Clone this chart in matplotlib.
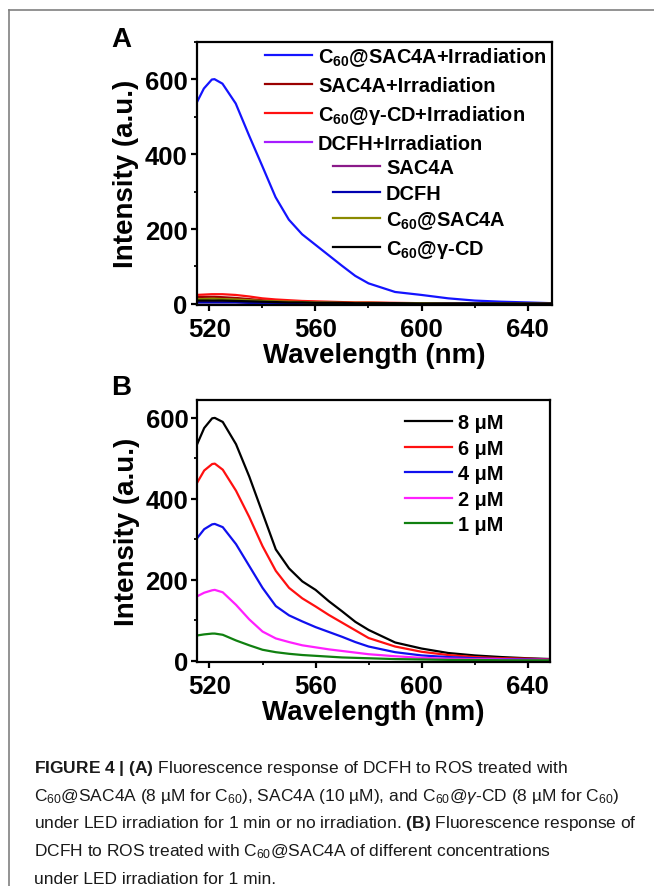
import matplotlib
matplotlib.use('Agg')
import matplotlib.pyplot as plt
from matplotlib.lines import Line2D
from matplotlib.ticker import MultipleLocator

# fuentes
plt.rcParams['font.family'] = ['Liberation Sans', 'DejaVu Sans']
plt.rcParams['mathtext.fontset'] = 'custom'
plt.rcParams['mathtext.rm'] = 'Liberation Sans'
plt.rcParams['mathtext.it'] = 'Liberation Sans:italic'
plt.rcParams['mathtext.bf'] = 'Liberation Sans:bold'

# datos
wl = [515, 518, 521, 522, 525, 530, 535, 540, 545, 550, 555, 560,
      565, 570, 575, 580, 590, 600, 610, 620, 630, 640, 649]

# panel A
c60_sac4a_irr = [533, 575, 599, 600, 588, 535, 450, 368, 285, 225, 186, 158,
                 130, 102, 75, 55, 32, 24, 15, 9, 6, 4, 2]
sac4a_irr = [18, 19, 19, 19, 18, 16, 13, 10, 8, 7, 6, 5, 4, 4, 3, 3, 2, 2, 2, 1, 1, 1, 1]
c60_gcd_irr = [24, 25, 26, 26, 26, 24, 20, 15, 12, 10, 8, 7, 6, 5, 4, 4, 3, 2, 2, 1, 1, 1, 1]
dcfh_irr = [7, 7, 7, 7, 7, 6, 5, 5, 4, 4, 3, 3, 3, 2, 2, 2, 2, 1, 1, 1, 1, 1, 1]
sac4a = [5, 5, 5, 5, 5, 5, 4, 4, 3, 3, 3, 2, 2, 2, 2, 2, 1, 1, 1, 1, 1, 1, 1]
dcfh = [4, 4, 4, 4, 4, 4, 3, 3, 3, 2, 2, 2, 2, 2, 1, 1, 1, 1, 1, 1, 1, 1, 1]
c60_sac4a = [13, 13, 14, 14, 13, 12, 10, 8, 7, 6, 5, 4, 4, 3, 3, 3, 2, 2, 1, 1, 1, 1, 1]
c60_gcd = [9, 9, 9, 9, 9, 8, 7, 6, 5, 4, 4, 3, 3, 3, 2, 2, 2, 1, 1, 1, 1, 1, 1]

# panel B
um8 = [530, 575, 599, 600, 590, 535, 455, 365, 275, 228, 196, 175,
       147, 122, 96, 76, 45, 30, 19, 13, 9, 6, 4]
um6 = [436, 470, 486, 487, 472, 420, 355, 283, 222, 180, 154, 134,
       113, 94, 75, 56, 35, 22, 14, 9, 6, 5, 3]
um4 = [300, 325, 337, 338, 330, 288, 234, 180, 135, 112, 97, 83,
       71, 59, 46, 35, 21, 13, 9, 6, 4, 3, 2]
um2 = [158, 168, 174, 175, 169, 138, 102, 72, 55, 46, 38, 33,
       28, 24, 20, 16, 11, 7, 5, 4, 3, 2, 2]
um1 = [62, 65, 67, 67, 64, 50, 38, 27, 21, 17, 14, 12,
       10, 8, 7, 6, 4, 3, 2, 2, 1, 1, 1]

series_a = [
    (c60_sac4a_irr, r'C$_{\mathbf{60}}$@SAC4A+Irradiation', '#1414ff'),
    (sac4a_irr, 'SAC4A+Irradiation', '#9a0000'),
    (c60_gcd_irr, r'C$_{\mathbf{60}}$@γ-CD+Irradiation', '#ff1010'),
    (dcfh_irr, 'DCFH+Irradiation', '#a61cff'),
    (sac4a, 'SAC4A', '#8b1a89'),
    (dcfh, 'DCFH', '#0000b0'),
    (c60_sac4a, r'C$_{\mathbf{60}}$@SAC4A', '#8a8a00'),
    (c60_gcd, r'C$_{\mathbf{60}}$@γ-CD', '#000000'),
]
series_b = [
    (um8, '8 μM', '#000000'),
    (um6, '6 μM', '#ff1010'),
    (um4, '4 μM', '#1010ee'),
    (um2, '2 μM', '#ff20ff'),
    (um1, '1 μM', '#108010'),
]

W, H = 654, 887
fig = plt.figure(figsize=(W / 100, H / 100), dpi=100)


def fx(px):
    return px / W


def fy(py):
    return 1 - py / H


def estilo(ax, xlim, ylim):
    ax.set_xlim(*xlim)
    ax.set_ylim(*ylim)
    ax.xaxis.set_major_locator(MultipleLocator(40))
    ax.xaxis.set_minor_locator(MultipleLocator(20))
    ax.yaxis.set_major_locator(MultipleLocator(200))
    ax.yaxis.set_minor_locator(MultipleLocator(100))
    for s in ax.spines.values():
        s.set_linewidth(1.6)
    ax.tick_params(which='major', direction='out', length=4.5, width=1.6,
                   labelsize=18.5, pad=2)
    ax.tick_params(which='minor', direction='out', length=2.5, width=1.3)
    ax.tick_params(axis='x', which='major', pad=4)
    for lab in ax.get_xticklabels() + ax.get_yticklabels():
        lab.set_fontweight('bold')
    ax.set_xlabel('Wavelength (nm)', fontsize=20, fontweight='bold', labelpad=1)
    ax.set_ylabel('Intensity (a.u.)', fontsize=20, fontweight='bold', labelpad=4)


leg_prop = {'weight': 'bold', 'size': 14.4}

# Panel A
axA = fig.add_axes([fx(196.7), fy(305.7), fx(551.7) - fx(196.7), fy(42.7) - fy(305.7)])
lines_a = []
for vals, lab, col in series_a:
    ln, = axA.plot(wl, vals, color=col, lw=1.6, label=lab)
    lines_a.append(ln)
estilo(axA, (515.3, 649), (-2, 700))
leg1 = axA.legend(handles=lines_a[:4], loc='upper left', bbox_to_anchor=(fx(265), fy(46)),
                  bbox_transform=fig.transFigure, frameon=False, prop=leg_prop,
                  handlelength=2.35, handletextpad=0.3, labelspacing=0.4,
                  borderpad=0, borderaxespad=0)
axA.add_artist(leg1)
axA.legend(handles=lines_a[4:], loc='upper left', bbox_to_anchor=(fx(333), fy(159)),
           bbox_transform=fig.transFigure, frameon=False, prop=leg_prop,
           handlelength=2.35, handletextpad=0.3, labelspacing=0.33,
           borderpad=0, borderaxespad=0)
fig.text(fx(111), fy(47), 'A', fontsize=20, fontweight='bold', ha='left', va='baseline')

# Panel B
axB = fig.add_axes([fx(197.3), fy(662.7), fx(550) - fx(197.3), fy(400.7) - fy(662.7)])
lines_b = []
for vals, lab, col in series_b:
    ln, = axB.plot(wl, vals, color=col, lw=1.6, label=lab)
    lines_b.append(ln)
estilo(axB, (515.4, 648.4), (-2.5, 645))
axB.legend(handles=lines_b, loc='upper left', bbox_to_anchor=(fx(405), fy(414)),
           bbox_transform=fig.transFigure, frameon=False, prop=leg_prop,
           handlelength=2.35, handletextpad=0.3, labelspacing=0.33,
           borderpad=0, borderaxespad=0)
fig.text(fx(111), fy(395), 'B', fontsize=20, fontweight='bold', ha='left', va='baseline')

# marco gris
fig.add_artist(Line2D([fx(9), 1], [fy(11), fy(11)], transform=fig.transFigure,
                      color='#808080', lw=1.2))
fig.add_artist(Line2D([fx(9), fx(9)], [fy(11), 0], transform=fig.transFigure,
                      color='#808080', lw=1.2))

# pie de figura
caption = [
    r'$\mathbf{FIGURE\ 4\ |\ (A)}$ Fluorescence response of DCFH to ROS treated with',
    r'C$_{\mathrm{60}}$@SAC4A (8 µM for C$_{\mathrm{60}}$), SAC4A (10 µM), and C$_{\mathrm{60}}$@$\gamma$-CD (8 µM for C$_{\mathrm{60}}$)',
    r'under LED irradiation for 1 min or no irradiation. $\mathbf{(B)}$ Fluorescence response of',
    r'DCFH to ROS treated with C$_{\mathrm{60}}$@SAC4A of different concentrations',
    'under LED irradiation for 1 min.',
]
for i, linea in enumerate(caption):
    fig.text(fx(34), fy(773 + i * 27.7), linea, fontsize=12.5,
             ha='left', va='baseline', color='#1a1a1a')

fig.savefig('out.png', dpi=100)
